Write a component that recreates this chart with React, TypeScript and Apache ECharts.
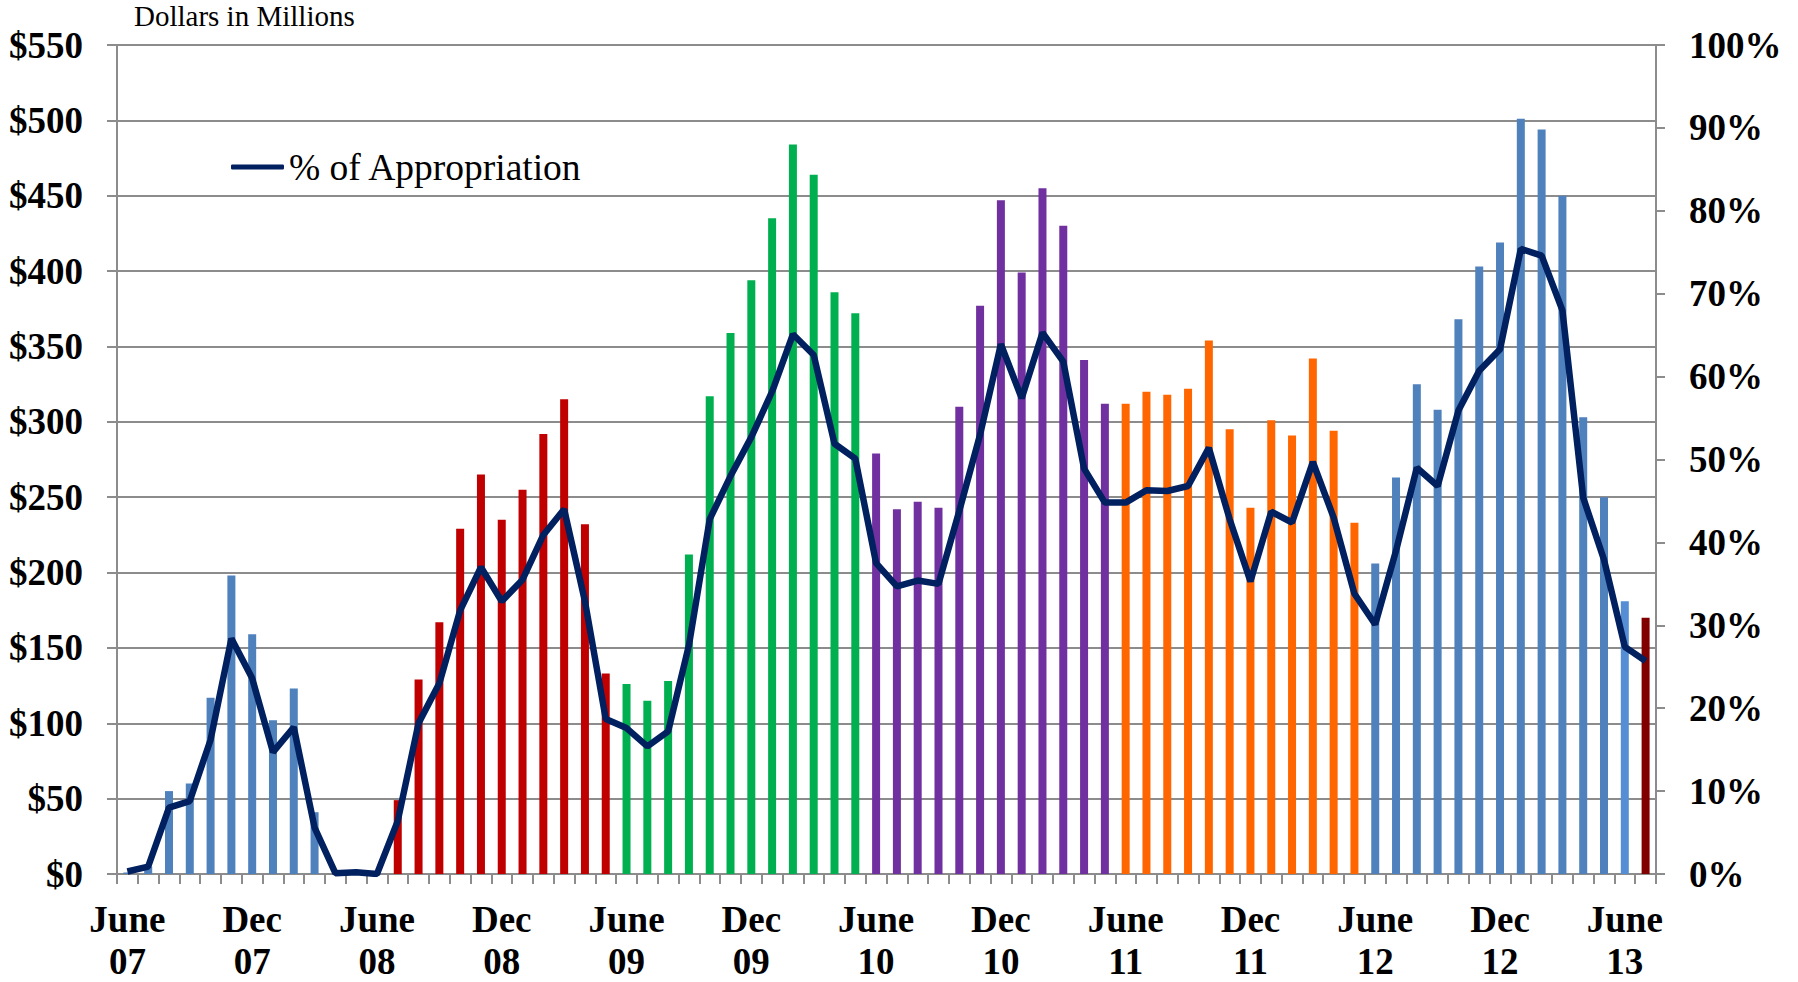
import React, { useEffect, useRef } from "react";
import * as echarts from "echarts";

const months = [
  "Jun 07","Jul 07","Aug 07","Sep 07","Oct 07","Nov 07","Dec 07","Jan 08","Feb 08","Mar 08","Apr 08","May 08",
  "Jun 08","Jul 08","Aug 08","Sep 08","Oct 08","Nov 08","Dec 08","Jan 09","Feb 09","Mar 09","Apr 09","May 09",
  "Jun 09","Jul 09","Aug 09","Sep 09","Oct 09","Nov 09","Dec 09","Jan 10","Feb 10","Mar 10","Apr 10","May 10",
  "Jun 10","Jul 10","Aug 10","Sep 10","Oct 10","Nov 10","Dec 10","Jan 11","Feb 11","Mar 11","Apr 11","May 11",
  "Jun 11","Jul 11","Aug 11","Sep 11","Oct 11","Nov 11","Dec 11","Jan 12","Feb 12","Mar 12","Apr 12","May 12",
  "Jun 12","Jul 12","Aug 12","Sep 12","Oct 12","Nov 12","Dec 12","Jan 13","Feb 13","Mar 13","Apr 13","May 13",
  "Jun 13","Jul 13",
];

const tickLabels = [
  "June\n07","Dec\n07","June\n08","Dec\n08","June\n09","Dec\n09","June\n10",
  "Dec\n10","June\n11","Dec\n11","June\n12","Dec\n12","June\n13",
];

// Monthly obligations, dollars in millions
const dollars = [
  1, 5, 55, 60, 117, 198, 159, 102, 123, 41, 0, 1,
  0, 49, 129, 167, 229, 265, 235, 255, 292, 315, 232, 133,
  126, 115, 128, 212, 317, 359, 394, 435, 484, 464, 386, 372,
  279, 242, 247, 243, 310, 377, 447, 399, 455, 430, 341, 312,
  312, 320, 318, 322, 354, 295, 243, 301, 291, 342, 294, 233,
  206, 263, 325, 308, 368, 403, 419, 501, 494, 450, 303, 250,
  181, 170,
];

// % of Appropriation
const pctAppropriation = [
  0.3, 0.9, 8.0, 8.8, 16.2, 28.4, 23.6, 14.7, 17.7, 5.6, 0.1, 0.2,
  0.0, 6.4, 18.2, 23.0, 31.8, 37.0, 32.9, 35.5, 40.9, 44.0, 32.9, 18.7,
  17.6, 15.4, 17.2, 27.6, 42.8, 48.0, 52.7, 58.2, 65.1, 62.6, 51.9, 50.1,
  37.5, 34.7, 35.4, 35.0, 43.8, 53.0, 63.9, 57.4, 65.3, 61.8, 48.9, 44.8,
  44.8, 46.3, 46.2, 46.8, 51.4, 42.8, 35.3, 43.7, 42.4, 49.7, 43.0, 33.8,
  30.1, 39.0, 49.0, 46.8, 55.9, 60.7, 63.3, 75.4, 74.6, 68.0, 45.4, 37.9,
  27.4, 25.7,
];

const segments = [
  { from: 0, to: 11, color: "#4F81BD" },
  { from: 12, to: 23, color: "#C00000" },
  { from: 24, to: 35, color: "#00B050" },
  { from: 36, to: 47, color: "#7030A0" },
  { from: 48, to: 59, color: "#FF6600" },
  { from: 60, to: 71, color: "#4F81BD" },
  { from: 72, to: 72, color: "#558ED5" },
  { from: 73, to: 73, color: "#800000" },
];

function colorFor(i: number): string {
  const s = segments.find((seg) => i >= seg.from && i <= seg.to);
  return s ? s.color : "#4F81BD";
}

const FONT = "Liberation Serif";
const GRAY = "#8C8C8C";

export default function App() {
  const ref = useRef<HTMLDivElement>(null);
  useEffect(() => {
    if (!ref.current) return;
    const chart = echarts.init(ref.current, undefined, { renderer: "svg" });
    chart.setOption({
      animation: false,
      backgroundColor: "#ffffff",
      title: {
        text: "Dollars in Millions",
        left: 134,
        top: 1,
        padding: 0,
        textStyle: { fontFamily: FONT, fontSize: 29, fontWeight: "normal", color: "#000", lineHeight: 30 },
      },
      legend: {
        data: ["% of Appropriation"],
        left: 231,
        top: 147,
        padding: 0,
        icon: "roundRect",
        itemWidth: 53,
        itemHeight: 5,
        textStyle: { fontFamily: FONT, fontSize: 37.5, color: "#000", lineHeight: 40 },
      },
      grid: { left: 117, right: 142, top: 45, bottom: 104, containLabel: false },
      xAxis: {
        type: "category",
        data: months,
        boundaryGap: true,
        axisLine: { show: true, lineStyle: { color: GRAY, width: 2 } },
        axisTick: { show: true, interval: 0, length: 10, lineStyle: { color: GRAY, width: 2 } },
        axisLabel: {
          interval: 5,
          margin: 24,
          fontFamily: FONT,
          fontSize: 37,
          fontWeight: "bold",
          color: "#000",
          lineHeight: 42,
          formatter: (_v: string, idx: number) => tickLabels[Math.round(idx / 6)] ?? "",
        },
        splitLine: { show: false },
      },
      yAxis: [
        {
          type: "value",
          min: 0,
          max: 550,
          interval: 50,
          axisLine: { show: true, lineStyle: { color: GRAY, width: 2 } },
          axisTick: { show: true, length: 10, lineStyle: { color: GRAY, width: 2 } },
          axisLabel: {
            margin: 34,
            fontFamily: FONT,
            fontSize: 37,
            fontWeight: "bold",
            color: "#000",
            padding: [8, 0, 0, 0],
            formatter: (v: number) => "$" + v,
          },
          splitLine: { show: true, lineStyle: { color: GRAY, width: 2 } },
        },
        {
          type: "value",
          min: 0,
          max: 100,
          interval: 10,
          position: "right",
          axisLine: { show: true, lineStyle: { color: GRAY, width: 2 } },
          axisTick: { show: true, length: 9, lineStyle: { color: GRAY, width: 2 } },
          axisLabel: {
            margin: 33,
            fontFamily: FONT,
            fontSize: 37,
            fontWeight: "bold",
            color: "#000",
            formatter: (v: number) => v + "%",
          },
          splitLine: { show: false },
        },
      ],
      series: [
        {
          name: "Dollars",
          type: "bar",
          barWidth: 8,
          data: dollars.map((v, i) => ({ value: v, itemStyle: { color: colorFor(i) } })),
          z: 2,
        },
        {
          name: "% of Appropriation",
          type: "line",
          yAxisIndex: 1,
          data: pctAppropriation,
          symbol: "none",
          showSymbol: false,
          lineStyle: { color: "#002060", width: 6.5 },
          itemStyle: { color: "#002060" },
          z: 3,
        },
      ],
    });
    return () => chart.dispose();
  }, []);
  return (
    <div
      ref={ref}
      style={{ position: "absolute", left: 0, top: 0, width: 1798, height: 982, background: "#fff" }}
    />
  );
}
